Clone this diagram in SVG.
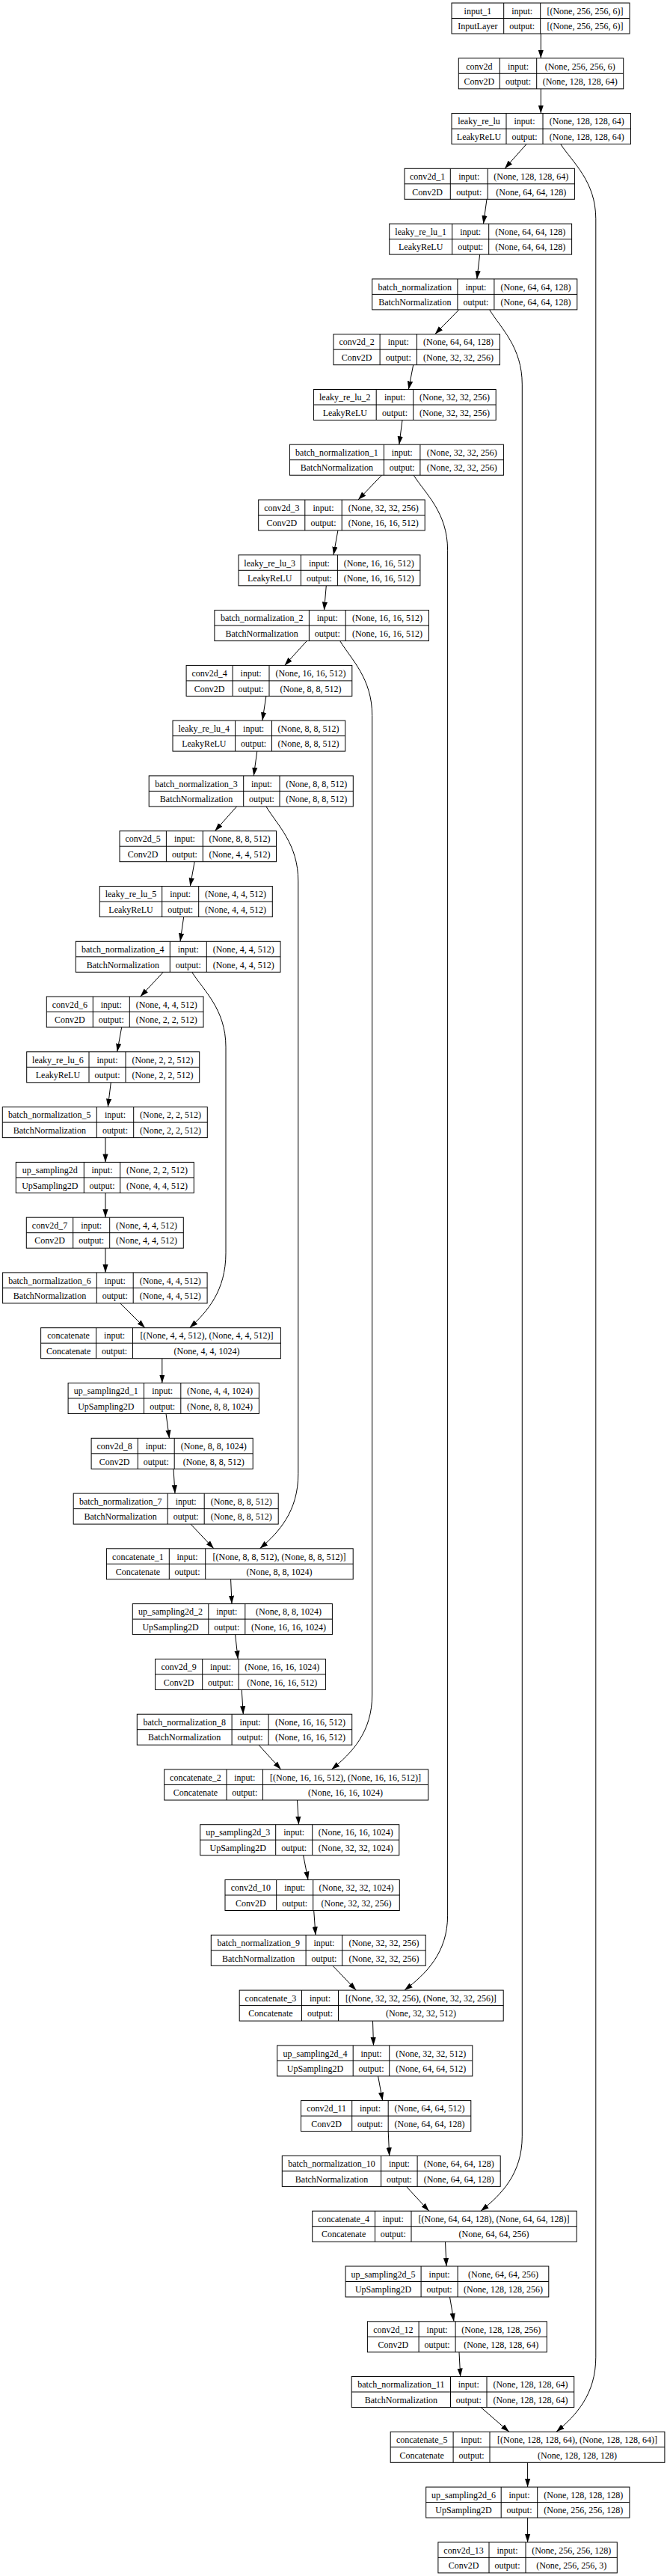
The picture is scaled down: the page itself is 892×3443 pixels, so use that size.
<svg xmlns="http://www.w3.org/2000/svg" width="892" height="3443" viewBox="0 0 892 3443">
<style>
.node rect{fill:#fff;stroke:#000;stroke-width:1}
.node path{fill:none;stroke:#000;stroke-width:1}
.node text{font-family:"Liberation Serif","Times New Roman",serif;font-size:12px;fill:#000;text-anchor:middle}
#edges path{fill:none;stroke:#000;stroke-width:1;marker-end:url(#arr)}
</style>
<defs>
<marker id="arr" markerWidth="11" markerHeight="8" refX="11" refY="4" orient="auto" markerUnits="userSpaceOnUse"><path d="M0,0.4L11,4L0,7.6z" fill="#000"/></marker>
</defs>
<rect width="892" height="3443" fill="#fff"/>
<g id="edges">
<path d="M723.3,45L723.3,77.8"/>
<path d="M723.3,118.8L723.3,151.6"/>
<path d="M704,192.6L675,225.3"/>
<path d="M651,266.3L646.5,299.1"/>
<path d="M641.7,340.1L637.8,372.9"/>
<path d="M613.8,413.9L581.7,446.7"/>
<path d="M552.7,487.7L546.4,520.5"/>
<path d="M538,561.5L533.8,594.2"/>
<path d="M510.5,635.2L479,668"/>
<path d="M451.9,709L446,741.8"/>
<path d="M436.3,782.8L433.5,815.6"/>
<path d="M410.3,856.6L380.6,889.4"/>
<path d="M355.9,930.4L350.9,963.1"/>
<path d="M343.8,1004.1L339.3,1036.9"/>
<path d="M316.6,1077.9L287.4,1110.7"/>
<path d="M260.2,1151.7L254.3,1184.5"/>
<path d="M245.7,1225.5L241,1258.3"/>
<path d="M218.3,1299.3L187.7,1332"/>
<path d="M162.7,1373L156.7,1405.8"/>
<path d="M148.3,1446.8L144.3,1479.6"/>
<path d="M141,1520.6L141,1553.4"/>
<path d="M141,1594.4L141,1627.2"/>
<path d="M141,1668.2L141,1700.9"/>
<path d="M160.7,1741.9L193.9,1774.7"/>
<path d="M216.8,1815.7L216.8,1848.5"/>
<path d="M222,1889.5L226.4,1922.3"/>
<path d="M232,1963.3L234,1996.1"/>
<path d="M255,2037.1L285.9,2069.8"/>
<path d="M308.6,2110.8L310,2143.6"/>
<path d="M314.6,2184.6L318.2,2217.4"/>
<path d="M323.2,2258.4L325.3,2291.2"/>
<path d="M346,2332.2L375.8,2365"/>
<path d="M397.5,2406L399.5,2438.7"/>
<path d="M405.6,2479.7L412,2512.5"/>
<path d="M419.7,2553.5L422,2586.3"/>
<path d="M445,2627.3L476.3,2660.1"/>
<path d="M498.5,2701.1L499.5,2733.9"/>
<path d="M505.6,2774.9L511.6,2807.6"/>
<path d="M519.2,2848.6L520.7,2881.4"/>
<path d="M543.4,2922.4L573.7,2955.2"/>
<path d="M595.5,2996.2L597,3029"/>
<path d="M601.5,3070L607,3102.8"/>
<path d="M614,3143.8L615.7,3176.5"/>
<path d="M643,3217.5L680.8,3250.3"/>
<path d="M705.6,3291.3L705.6,3324.1"/>
<path d="M705.6,3365.1L705.6,3397.9"/>
<path d="M749.7,192.6C766.2,217.6 796.8,242.6 796.8,292.6L796.8,3150.3C796.8,3200.3 770.4,3228.3 744,3250.3"/>
<path d="M654.6,413.9C669.9,438.9 698.3,463.9 698.3,513.9L698.3,2855.2C698.3,2905.2 670.6,2933.2 642.9,2955.2"/>
<path d="M553.2,635.2C569.1,660.2 598.6,685.2 598.6,735.2L598.6,2560.1C598.6,2610.1 569.8,2638.1 540.9,2660.1"/>
<path d="M454.7,856.6C469.8,881.6 497.7,906.6 497.7,956.6L497.7,2265C497.7,2315 470.6,2343 443.4,2365"/>
<path d="M355.9,1077.9C370.9,1102.9 398.8,1127.9 398.8,1177.9L398.8,1969.8C398.8,2019.8 373.2,2047.8 347.5,2069.8"/>
<path d="M256.7,1299.3C272.6,1324.3 302,1349.3 302,1399.3L302,1674.7C302,1724.7 277.8,1752.7 253.6,1774.7"/>
</g>
<g id="input_1" class="node" transform="translate(0,4)"><rect x="604" y="0" width="238" height="41"/><path d="M604,20.5H842M673.7,0V41M722.7,0V41"/><text x="638.9" y="14.8">input_1</text><text x="638.9" y="35.3">InputLayer</text><text x="698.2" y="14.8">input:</text><text x="698.2" y="35.3">output:</text><text x="782.4" y="14.8">[(None, 256, 256, 6)]</text><text x="782.4" y="35.3">[(None, 256, 256, 6)]</text></g>
<g id="conv2d" class="node" transform="translate(0,77.8)"><rect x="613.3" y="0" width="220.4" height="41"/><path d="M613.3,20.5H833.7M668.3,0V41M717.7,0V41"/><text x="640.8" y="14.8">conv2d</text><text x="640.8" y="35.3">Conv2D</text><text x="693" y="14.8">input:</text><text x="693" y="35.3">output:</text><text x="775.7" y="14.8">(None, 256, 256, 6)</text><text x="775.7" y="35.3">(None, 128, 128, 64)</text></g>
<g id="leaky_re_lu" class="node" transform="translate(0,151.6)"><rect x="604" y="0" width="239.5" height="41"/><path d="M604,20.5H843.5M677,0V41M726,0V41"/><text x="640.5" y="14.8">leaky_re_lu</text><text x="640.5" y="35.3">LeakyReLU</text><text x="701.5" y="14.8">input:</text><text x="701.5" y="35.3">output:</text><text x="784.8" y="14.8">(None, 128, 128, 64)</text><text x="784.8" y="35.3">(None, 128, 128, 64)</text></g>
<g id="conv2d_1" class="node" transform="translate(0,225.3)"><rect x="541" y="0" width="227.4" height="41"/><path d="M541,20.5H768.4M602.3,0V41M652.2,0V41"/><text x="571.7" y="14.8">conv2d_1</text><text x="571.7" y="35.3">Conv2D</text><text x="627.3" y="14.8">input:</text><text x="627.3" y="35.3">output:</text><text x="710.3" y="14.8">(None, 128, 128, 64)</text><text x="710.3" y="35.3">(None, 64, 64, 128)</text></g>
<g id="leaky_re_lu_1" class="node" transform="translate(0,299.1)"><rect x="520.7" y="0" width="243.9" height="41"/><path d="M520.7,20.5H764.6M604.7,0V41M653.7,0V41"/><text x="562.7" y="14.8">leaky_re_lu_1</text><text x="562.7" y="35.3">LeakyReLU</text><text x="629.2" y="14.8">input:</text><text x="629.2" y="35.3">output:</text><text x="709.2" y="14.8">(None, 64, 64, 128)</text><text x="709.2" y="35.3">(None, 64, 64, 128)</text></g>
<g id="batch_normalization" class="node" transform="translate(0,372.9)"><rect x="497.7" y="0" width="274.1" height="41"/><path d="M497.7,20.5H771.8M611.9,0V41M660.9,0V41"/><text x="554.8" y="14.8">batch_normalization</text><text x="554.8" y="35.3">BatchNormalization</text><text x="636.4" y="14.8">input:</text><text x="636.4" y="35.3">output:</text><text x="716.4" y="14.8">(None, 64, 64, 128)</text><text x="716.4" y="35.3">(None, 64, 64, 128)</text></g>
<g id="conv2d_2" class="node" transform="translate(0,446.7)"><rect x="446" y="0" width="222.5" height="41"/><path d="M446,20.5H668.5M508.1,0V41M557.5,0V41"/><text x="477.1" y="14.8">conv2d_2</text><text x="477.1" y="35.3">Conv2D</text><text x="532.8" y="14.8">input:</text><text x="532.8" y="35.3">output:</text><text x="613" y="14.8">(None, 64, 64, 128)</text><text x="613" y="35.3">(None, 32, 32, 256)</text></g>
<g id="leaky_re_lu_2" class="node" transform="translate(0,520.5)"><rect x="419.4" y="0" width="243.8" height="41"/><path d="M419.4,20.5H663.2M503.2,0V41M552.7,0V41"/><text x="461.3" y="14.8">leaky_re_lu_2</text><text x="461.3" y="35.3">LeakyReLU</text><text x="528" y="14.8">input:</text><text x="528" y="35.3">output:</text><text x="608" y="14.8">(None, 32, 32, 256)</text><text x="608" y="35.3">(None, 32, 32, 256)</text></g>
<g id="batch_normalization_1" class="node" transform="translate(0,594.2)"><rect x="387.4" y="0" width="286" height="41"/><path d="M387.4,20.5H673.4M513.4,0V41M561.9,0V41"/><text x="450.4" y="14.8">batch_normalization_1</text><text x="450.4" y="35.3">BatchNormalization</text><text x="537.7" y="14.8">input:</text><text x="537.7" y="35.3">output:</text><text x="617.7" y="14.8">(None, 32, 32, 256)</text><text x="617.7" y="35.3">(None, 32, 32, 256)</text></g>
<g id="conv2d_3" class="node" transform="translate(0,668)"><rect x="345.7" y="0" width="222.5" height="41"/><path d="M345.7,20.5H568.2M407.8,0V41M457.2,0V41"/><text x="376.8" y="14.8">conv2d_3</text><text x="376.8" y="35.3">Conv2D</text><text x="432.5" y="14.8">input:</text><text x="432.5" y="35.3">output:</text><text x="512.7" y="14.8">(None, 32, 32, 256)</text><text x="512.7" y="35.3">(None, 16, 16, 512)</text></g>
<g id="leaky_re_lu_3" class="node" transform="translate(0,741.8)"><rect x="319" y="0" width="242.9" height="41"/><path d="M319,20.5H561.9M402.4,0V41M451.4,0V41"/><text x="360.7" y="14.8">leaky_re_lu_3</text><text x="360.7" y="35.3">LeakyReLU</text><text x="426.9" y="14.8">input:</text><text x="426.9" y="35.3">output:</text><text x="506.7" y="14.8">(None, 16, 16, 512)</text><text x="506.7" y="35.3">(None, 16, 16, 512)</text></g>
<g id="batch_normalization_2" class="node" transform="translate(0,815.6)"><rect x="286.9" y="0" width="286.6" height="41"/><path d="M286.9,20.5H573.5M413.4,0V41M462.2,0V41"/><text x="350.2" y="14.8">batch_normalization_2</text><text x="350.2" y="35.3">BatchNormalization</text><text x="437.8" y="14.8">input:</text><text x="437.8" y="35.3">output:</text><text x="517.9" y="14.8">(None, 16, 16, 512)</text><text x="517.9" y="35.3">(None, 16, 16, 512)</text></g>
<g id="conv2d_4" class="node" transform="translate(0,889.4)"><rect x="249.1" y="0" width="221.7" height="41"/><path d="M249.1,20.5H470.8M311.1,0V41M360,0V41"/><text x="280.1" y="14.8">conv2d_4</text><text x="280.1" y="35.3">Conv2D</text><text x="335.6" y="14.8">input:</text><text x="335.6" y="35.3">output:</text><text x="415.4" y="14.8">(None, 16, 16, 512)</text><text x="415.4" y="35.3">(None, 8, 8, 512)</text></g>
<g id="leaky_re_lu_4" class="node" transform="translate(0,963.1)"><rect x="231" y="0" width="230.7" height="41"/><path d="M231,20.5H461.7M314.6,0V41M363.5,0V41"/><text x="272.8" y="14.8">leaky_re_lu_4</text><text x="272.8" y="35.3">LeakyReLU</text><text x="339.1" y="14.8">input:</text><text x="339.1" y="35.3">output:</text><text x="412.6" y="14.8">(None, 8, 8, 512)</text><text x="412.6" y="35.3">(None, 8, 8, 512)</text></g>
<g id="batch_normalization_3" class="node" transform="translate(0,1036.9)"><rect x="199.2" y="0" width="273.1" height="41"/><path d="M199.2,20.5H472.3M325.7,0V41M374,0V41"/><text x="262.5" y="14.8">batch_normalization_3</text><text x="262.5" y="35.3">BatchNormalization</text><text x="349.9" y="14.8">input:</text><text x="349.9" y="35.3">output:</text><text x="423.2" y="14.8">(None, 8, 8, 512)</text><text x="423.2" y="35.3">(None, 8, 8, 512)</text></g>
<g id="conv2d_5" class="node" transform="translate(0,1110.7)"><rect x="160" y="0" width="209.5" height="41"/><path d="M160,20.5H369.5M222.4,0V41M271.3,0V41"/><text x="191.2" y="14.8">conv2d_5</text><text x="191.2" y="35.3">Conv2D</text><text x="246.9" y="14.8">input:</text><text x="246.9" y="35.3">output:</text><text x="320.4" y="14.8">(None, 8, 8, 512)</text><text x="320.4" y="35.3">(None, 4, 4, 512)</text></g>
<g id="leaky_re_lu_5" class="node" transform="translate(0,1184.5)"><rect x="133.3" y="0" width="231" height="41"/><path d="M133.3,20.5H364.3M216.7,0V41M265.7,0V41"/><text x="175" y="14.8">leaky_re_lu_5</text><text x="175" y="35.3">LeakyReLU</text><text x="241.2" y="14.8">input:</text><text x="241.2" y="35.3">output:</text><text x="315" y="14.8">(None, 4, 4, 512)</text><text x="315" y="35.3">(None, 4, 4, 512)</text></g>
<g id="batch_normalization_4" class="node" transform="translate(0,1258.3)"><rect x="101.3" y="0" width="273.7" height="41"/><path d="M101.3,20.5H375M227.3,0V41M276.3,0V41"/><text x="164.3" y="14.8">batch_normalization_4</text><text x="164.3" y="35.3">BatchNormalization</text><text x="251.8" y="14.8">input:</text><text x="251.8" y="35.3">output:</text><text x="325.7" y="14.8">(None, 4, 4, 512)</text><text x="325.7" y="35.3">(None, 4, 4, 512)</text></g>
<g id="conv2d_6" class="node" transform="translate(0,1332)"><rect x="62.3" y="0" width="209.7" height="41"/><path d="M62.3,20.5H272M124.3,0V41M173.3,0V41"/><text x="93.3" y="14.8">conv2d_6</text><text x="93.3" y="35.3">Conv2D</text><text x="148.8" y="14.8">input:</text><text x="148.8" y="35.3">output:</text><text x="222.7" y="14.8">(None, 4, 4, 512)</text><text x="222.7" y="35.3">(None, 2, 2, 512)</text></g>
<g id="leaky_re_lu_6" class="node" transform="translate(0,1405.8)"><rect x="35.7" y="0" width="231" height="41"/><path d="M35.7,20.5H266.7M119,0V41M168,0V41"/><text x="77.4" y="14.8">leaky_re_lu_6</text><text x="77.4" y="35.3">LeakyReLU</text><text x="143.5" y="14.8">input:</text><text x="143.5" y="35.3">output:</text><text x="217.4" y="14.8">(None, 2, 2, 512)</text><text x="217.4" y="35.3">(None, 2, 2, 512)</text></g>
<g id="batch_normalization_5" class="node" transform="translate(0,1479.6)"><rect x="3.3" y="0" width="274" height="41"/><path d="M3.3,20.5H277.3M129.3,0V41M178.7,0V41"/><text x="66.3" y="14.8">batch_normalization_5</text><text x="66.3" y="35.3">BatchNormalization</text><text x="154" y="14.8">input:</text><text x="154" y="35.3">output:</text><text x="228" y="14.8">(None, 2, 2, 512)</text><text x="228" y="35.3">(None, 2, 2, 512)</text></g>
<g id="up_sampling2d" class="node" transform="translate(0,1553.4)"><rect x="21.3" y="0" width="238" height="41"/><path d="M21.3,20.5H259.3M112.3,0V41M160.7,0V41"/><text x="66.8" y="14.8">up_sampling2d</text><text x="66.8" y="35.3">UpSampling2D</text><text x="136.5" y="14.8">input:</text><text x="136.5" y="35.3">output:</text><text x="210" y="14.8">(None, 2, 2, 512)</text><text x="210" y="35.3">(None, 4, 4, 512)</text></g>
<g id="conv2d_7" class="node" transform="translate(0,1627.2)"><rect x="35.3" y="0" width="210" height="41"/><path d="M35.3,20.5H245.3M97.7,0V41M146.7,0V41"/><text x="66.5" y="14.8">conv2d_7</text><text x="66.5" y="35.3">Conv2D</text><text x="122.2" y="14.8">input:</text><text x="122.2" y="35.3">output:</text><text x="196" y="14.8">(None, 4, 4, 512)</text><text x="196" y="35.3">(None, 4, 4, 512)</text></g>
<g id="batch_normalization_6" class="node" transform="translate(0,1700.9)"><rect x="3.6" y="0" width="273.5" height="41"/><path d="M3.6,20.5H277.1M129.3,0V41M178.2,0V41"/><text x="66.5" y="14.8">batch_normalization_6</text><text x="66.5" y="35.3">BatchNormalization</text><text x="153.8" y="14.8">input:</text><text x="153.8" y="35.3">output:</text><text x="227.7" y="14.8">(None, 4, 4, 512)</text><text x="227.7" y="35.3">(None, 4, 4, 512)</text></g>
<g id="concatenate" class="node" transform="translate(0,1774.7)"><rect x="54.6" y="0" width="320.8" height="41"/><path d="M54.6,20.5H375.4M128.6,0V41M177.5,0V41"/><text x="91.6" y="14.8">concatenate</text><text x="91.6" y="35.3">Concatenate</text><text x="153.1" y="14.8">input:</text><text x="153.1" y="35.3">output:</text><text x="276.5" y="14.8">[(None, 4, 4, 512), (None, 4, 4, 512)]</text><text x="276.5" y="35.3">(None, 4, 4, 1024)</text></g>
<g id="up_sampling2d_1" class="node" transform="translate(0,1848.5)"><rect x="91.1" y="0" width="255.3" height="41"/><path d="M91.1,20.5H346.4M192.5,0V41M241.8,0V41"/><text x="141.8" y="14.8">up_sampling2d_1</text><text x="141.8" y="35.3">UpSampling2D</text><text x="217.2" y="14.8">input:</text><text x="217.2" y="35.3">output:</text><text x="294.1" y="14.8">(None, 4, 4, 1024)</text><text x="294.1" y="35.3">(None, 8, 8, 1024)</text></g>
<g id="conv2d_8" class="node" transform="translate(0,1922.3)"><rect x="122.1" y="0" width="216.1" height="41"/><path d="M122.1,20.5H338.2M184.3,0V41M233.2,0V41"/><text x="153.2" y="14.8">conv2d_8</text><text x="153.2" y="35.3">Conv2D</text><text x="208.8" y="14.8">input:</text><text x="208.8" y="35.3">output:</text><text x="285.7" y="14.8">(None, 8, 8, 1024)</text><text x="285.7" y="35.3">(None, 8, 8, 512)</text></g>
<g id="batch_normalization_7" class="node" transform="translate(0,1996.1)"><rect x="98.2" y="0" width="274" height="41"/><path d="M98.2,20.5H372.2M224.2,0V41M273.2,0V41"/><text x="161.2" y="14.8">batch_normalization_7</text><text x="161.2" y="35.3">BatchNormalization</text><text x="248.7" y="14.8">input:</text><text x="248.7" y="35.3">output:</text><text x="322.7" y="14.8">(None, 8, 8, 512)</text><text x="322.7" y="35.3">(None, 8, 8, 512)</text></g>
<g id="concatenate_1" class="node" transform="translate(0,2069.8)"><rect x="142.4" y="0" width="329.8" height="41"/><path d="M142.4,20.5H472.2M226.3,0V41M274.7,0V41"/><text x="184.4" y="14.8">concatenate_1</text><text x="184.4" y="35.3">Concatenate</text><text x="250.5" y="14.8">input:</text><text x="250.5" y="35.3">output:</text><text x="373.5" y="14.8">[(None, 8, 8, 512), (None, 8, 8, 512)]</text><text x="373.5" y="35.3">(None, 8, 8, 1024)</text></g>
<g id="up_sampling2d_2" class="node" transform="translate(0,2143.6)"><rect x="177.3" y="0" width="267.1" height="41"/><path d="M177.3,20.5H444.4M278.8,0V41M327.8,0V41"/><text x="228.1" y="14.8">up_sampling2d_2</text><text x="228.1" y="35.3">UpSampling2D</text><text x="303.3" y="14.8">input:</text><text x="303.3" y="35.3">output:</text><text x="386.1" y="14.8">(None, 8, 8, 1024)</text><text x="386.1" y="35.3">(None, 16, 16, 1024)</text></g>
<g id="conv2d_9" class="node" transform="translate(0,2217.4)"><rect x="207.6" y="0" width="227.8" height="41"/><path d="M207.6,20.5H435.4M270.7,0V41M319.2,0V41"/><text x="239.2" y="14.8">conv2d_9</text><text x="239.2" y="35.3">Conv2D</text><text x="295" y="14.8">input:</text><text x="295" y="35.3">output:</text><text x="377.3" y="14.8">(None, 16, 16, 1024)</text><text x="377.3" y="35.3">(None, 16, 16, 512)</text></g>
<g id="batch_normalization_8" class="node" transform="translate(0,2291.2)"><rect x="183.3" y="0" width="287.4" height="41"/><path d="M183.3,20.5H470.7M310.1,0V41M359.1,0V41"/><text x="246.7" y="14.8">batch_normalization_8</text><text x="246.7" y="35.3">BatchNormalization</text><text x="334.6" y="14.8">input:</text><text x="334.6" y="35.3">output:</text><text x="414.9" y="14.8">(None, 16, 16, 512)</text><text x="414.9" y="35.3">(None, 16, 16, 512)</text></g>
<g id="concatenate_2" class="node" transform="translate(0,2365)"><rect x="219.7" y="0" width="353" height="41"/><path d="M219.7,20.5H572.7M303,0V41M351.5,0V41"/><text x="261.4" y="14.8">concatenate_2</text><text x="261.4" y="35.3">Concatenate</text><text x="327.3" y="14.8">input:</text><text x="327.3" y="35.3">output:</text><text x="462.1" y="14.8">[(None, 16, 16, 512), (None, 16, 16, 512)]</text><text x="462.1" y="35.3">(None, 16, 16, 1024)</text></g>
<g id="up_sampling2d_3" class="node" transform="translate(0,2438.7)"><rect x="267.7" y="0" width="266.1" height="41"/><path d="M267.7,20.5H533.8M368.7,0V41M417.7,0V41"/><text x="318.2" y="14.8">up_sampling2d_3</text><text x="318.2" y="35.3">UpSampling2D</text><text x="393.2" y="14.8">input:</text><text x="393.2" y="35.3">output:</text><text x="475.8" y="14.8">(None, 16, 16, 1024)</text><text x="475.8" y="35.3">(None, 32, 32, 1024)</text></g>
<g id="conv2d_10" class="node" transform="translate(0,2512.5)"><rect x="301" y="0" width="233.3" height="41"/><path d="M301,20.5H534.3M369.7,0V41M418.7,0V41"/><text x="335.4" y="14.8">conv2d_10</text><text x="335.4" y="35.3">Conv2D</text><text x="394.2" y="14.8">input:</text><text x="394.2" y="35.3">output:</text><text x="476.5" y="14.8">(None, 32, 32, 1024)</text><text x="476.5" y="35.3">(None, 32, 32, 256)</text></g>
<g id="batch_normalization_9" class="node" transform="translate(0,2586.3)"><rect x="282.3" y="0" width="286.9" height="41"/><path d="M282.3,20.5H569.2M409.1,0V41M457.6,0V41"/><text x="345.7" y="14.8">batch_normalization_9</text><text x="345.7" y="35.3">BatchNormalization</text><text x="433.4" y="14.8">input:</text><text x="433.4" y="35.3">output:</text><text x="513.4" y="14.8">(None, 32, 32, 256)</text><text x="513.4" y="35.3">(None, 32, 32, 256)</text></g>
<g id="concatenate_3" class="node" transform="translate(0,2660.1)"><rect x="320.2" y="0" width="353" height="41"/><path d="M320.2,20.5H673.2M403.5,0V41M452.5,0V41"/><text x="361.9" y="14.8">concatenate_3</text><text x="361.9" y="35.3">Concatenate</text><text x="428" y="14.8">input:</text><text x="428" y="35.3">output:</text><text x="562.9" y="14.8">[(None, 32, 32, 256), (None, 32, 32, 256)]</text><text x="562.9" y="35.3">(None, 32, 32, 512)</text></g>
<g id="up_sampling2d_4" class="node" transform="translate(0,2733.9)"><rect x="370.7" y="0" width="261.1" height="41"/><path d="M370.7,20.5H631.8M472.2,0V41M520.7,0V41"/><text x="421.5" y="14.8">up_sampling2d_4</text><text x="421.5" y="35.3">UpSampling2D</text><text x="496.5" y="14.8">input:</text><text x="496.5" y="35.3">output:</text><text x="576.3" y="14.8">(None, 32, 32, 512)</text><text x="576.3" y="35.3">(None, 64, 64, 512)</text></g>
<g id="conv2d_11" class="node" transform="translate(0,2807.6)"><rect x="402.5" y="0" width="227.3" height="41"/><path d="M402.5,20.5H629.8M470.7,0V41M519.2,0V41"/><text x="436.6" y="14.8">conv2d_11</text><text x="436.6" y="35.3">Conv2D</text><text x="495" y="14.8">input:</text><text x="495" y="35.3">output:</text><text x="574.5" y="14.8">(None, 64, 64, 512)</text><text x="574.5" y="35.3">(None, 64, 64, 128)</text></g>
<g id="batch_normalization_10" class="node" transform="translate(0,2881.4)"><rect x="377.3" y="0" width="291.9" height="41"/><path d="M377.3,20.5H669.2M509.6,0V41M558.1,0V41"/><text x="443.5" y="14.8">batch_normalization_10</text><text x="443.5" y="35.3">BatchNormalization</text><text x="533.9" y="14.8">input:</text><text x="533.9" y="35.3">output:</text><text x="613.7" y="14.8">(None, 64, 64, 128)</text><text x="613.7" y="35.3">(None, 64, 64, 128)</text></g>
<g id="concatenate_4" class="node" transform="translate(0,2955.2)"><rect x="417.7" y="0" width="353.5" height="41"/><path d="M417.7,20.5H771.2M501.5,0V41M550,0V41"/><text x="459.6" y="14.8">concatenate_4</text><text x="459.6" y="35.3">Concatenate</text><text x="525.8" y="14.8">input:</text><text x="525.8" y="35.3">output:</text><text x="660.6" y="14.8">[(None, 64, 64, 128), (None, 64, 64, 128)]</text><text x="660.6" y="35.3">(None, 64, 64, 256)</text></g>
<g id="up_sampling2d_5" class="node" transform="translate(0,3029)"><rect x="462.1" y="0" width="271.7" height="41"/><path d="M462.1,20.5H733.8M563.1,0V41M612.1,0V41"/><text x="512.6" y="14.8">up_sampling2d_5</text><text x="512.6" y="35.3">UpSampling2D</text><text x="587.6" y="14.8">input:</text><text x="587.6" y="35.3">output:</text><text x="673" y="14.8">(None, 64, 64, 256)</text><text x="673" y="35.3">(None, 128, 128, 256)</text></g>
<g id="conv2d_12" class="node" transform="translate(0,3102.8)"><rect x="491.4" y="0" width="239.9" height="41"/><path d="M491.4,20.5H731.3M560.1,0V41M609.1,0V41"/><text x="525.8" y="14.8">conv2d_12</text><text x="525.8" y="35.3">Conv2D</text><text x="584.6" y="14.8">input:</text><text x="584.6" y="35.3">output:</text><text x="670.2" y="14.8">(None, 128, 128, 256)</text><text x="670.2" y="35.3">(None, 128, 128, 64)</text></g>
<g id="batch_normalization_11" class="node" transform="translate(0,3176.5)"><rect x="470.2" y="0" width="297.5" height="41"/><path d="M470.2,20.5H767.7M602.5,0V41M651,0V41"/><text x="536.4" y="14.8">batch_normalization_11</text><text x="536.4" y="35.3">BatchNormalization</text><text x="626.8" y="14.8">input:</text><text x="626.8" y="35.3">output:</text><text x="709.4" y="14.8">(None, 128, 128, 64)</text><text x="709.4" y="35.3">(None, 128, 128, 64)</text></g>
<g id="concatenate_5" class="node" transform="translate(0,3250.3)"><rect x="522.2" y="0" width="366.7" height="41"/><path d="M522.2,20.5H888.9M606.1,0V41M655,0V41"/><text x="564.2" y="14.8">concatenate_5</text><text x="564.2" y="35.3">Concatenate</text><text x="630.6" y="14.8">input:</text><text x="630.6" y="35.3">output:</text><text x="772" y="14.8">[(None, 128, 128, 64), (None, 128, 128, 64)]</text><text x="772" y="35.3">(None, 128, 128, 128)</text></g>
<g id="up_sampling2d_6" class="node" transform="translate(0,3324.1)"><rect x="569.7" y="0" width="272.2" height="41"/><path d="M569.7,20.5H841.9M670.2,0V41M718.7,0V41"/><text x="620" y="14.8">up_sampling2d_6</text><text x="620" y="35.3">UpSampling2D</text><text x="694.5" y="14.8">input:</text><text x="694.5" y="35.3">output:</text><text x="780.3" y="14.8">(None, 128, 128, 128)</text><text x="780.3" y="35.3">(None, 256, 256, 128)</text></g>
<g id="conv2d_13" class="node" transform="translate(0,3397.9)"><rect x="585.9" y="0" width="239.4" height="41"/><path d="M585.9,20.5H825.3M654,0V41M703,0V41"/><text x="620" y="14.8">conv2d_13</text><text x="620" y="35.3">Conv2D</text><text x="678.5" y="14.8">input:</text><text x="678.5" y="35.3">output:</text><text x="764.2" y="14.8">(None, 256, 256, 128)</text><text x="764.2" y="35.3">(None, 256, 256, 3)</text></g>
</svg>
